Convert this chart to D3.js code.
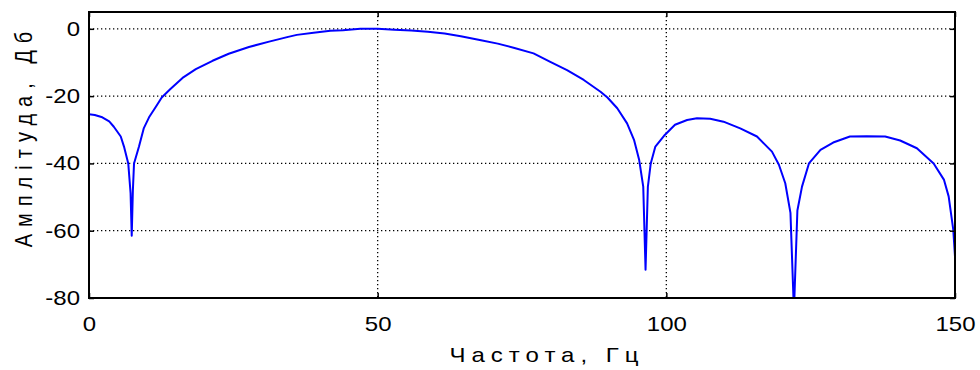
<!DOCTYPE html>
<html>
<head>
<meta charset="utf-8">
<script src="https://cdn.jsdelivr.net/npm/d3@7"></script>
<style>
    body { margin: 0; background: #fff; }
    svg text { font-family: "Liberation Sans", Arial, sans-serif; fill: #000; }
</style>
</head>
<body>
<div id="chart"></div>
<script>

// frequency (Hz) and amplitude (dB)
let freq = [0, 1, 2.3, 3.5, 4.3, 5.5, 6.06, 6.8, 7.2, 7.4, 7.6, 7.8, 8.66, 9.5, 10.4, 11.5, 12.6, 14.1, 16.2, 18.5,
    21.4, 24.2, 27.7, 31.2, 34.5, 36, 38.9, 41.8, 44, 47, 50, 52.9, 55.8, 58.7, 61.6, 64.4, 67.9, 70.8, 73.7, 77,
    79.9, 82.8, 85.7, 88.6, 89.8, 91.5, 93.2, 94.4, 95.3, 96, 96.4, 96.8, 97.3, 98.1, 99.6, 101.5, 103.6, 105.3,
    107.6, 109.9, 112.8, 115.7, 118.3, 119.5, 120.6, 121.5, 122.1, 122.7, 123.5, 124.7, 126.7, 128.9, 131.8,
    134.7, 137.9, 140.5, 143.4, 146.3, 148.1, 148.9, 149.7, 150];

let amp = [-25.4, -25.6, -26.3, -27.5, -29.1, -32, -35, -40, -48.8, -61.5, -48, -40, -35, -29.5, -26.3, -23.4, -20.4,
    -17.9, -14.6, -12, -9.5, -7.4, -5.4, -3.8, -2.4, -1.8, -1.2, -0.6, -0.4, 0, 0, -0.3, -0.5, -0.9, -1.4, -2.2,
    -3.4, -4.4, -5.7, -7.3, -9.8, -12.3, -15.2, -18.7, -20.4, -23.6, -28.1, -33, -39, -46.9, -71.6, -47, -40, -35,
    -31.8, -28.5, -27.1, -26.6, -26.7, -27.6, -29.6, -32, -36.5, -40.4, -45.9, -54.7, -84, -54, -46.9, -40, -36,
    -33.8, -32, -31.9, -32, -33.2, -35.5, -40, -44.9, -49.8, -59.7, -67.7];

let xTicks = [0, 50, 100, 150];
let yTicks = [-80, -60, -40, -20, 0];

let xLabel = "Частота, Гц";
let yLabel = "Амплітуда, Дб";

let width = 980;
let height = 370;
let margin = { left: 89, right: 25, top: 12, bottom: 72 };
let fontSize = 20;
let stretch = 1.2;   // the original text is a bit wider than plain Arial

let svg = d3.select("#chart").append("svg")
    .attr("width", width)
    .attr("height", height);

let x = d3.scaleLinear().domain([0, 150]).range([margin.left, width - margin.right]);
let y = d3.scaleLinear().domain([-80, 5]).range([height - margin.bottom, margin.top]);

// plain hyphen for negatives, like the original
let plain = d => String(d);

// clip so the deep null stays inside the box
svg.append("clipPath").attr("id", "plotclip")
    .append("rect")
    .attr("x", x(0)).attr("y", y(5))
    .attr("width", x(150) - x(0)).attr("height", y(-80) - y(5));

// dotted grid
let grid = svg.append("g").attr("class", "grid");
grid.selectAll(".hgrid").data(yTicks.filter(d => d > -80)).enter().append("line")
    .attr("x1", x(0)).attr("x2", x(150))
    .attr("y1", d => y(d)).attr("y2", d => y(d))
    .attr("stroke", "#000").attr("stroke-width", 1.3).attr("stroke-dasharray", "1.3,2.7");
grid.selectAll(".vgrid").data(xTicks.filter(d => d > 0 && d < 150)).enter().append("line")
    .attr("x1", d => x(d)).attr("x2", d => x(d))
    .attr("y1", y(5)).attr("y2", y(-80))
    .attr("stroke", "#000").attr("stroke-width", 1.3).attr("stroke-dasharray", "1.3,2.7");

// response curve
let line = d3.line().x((d, i) => x(freq[i])).y(d => y(d));
svg.append("path")
    .datum(amp)
    .attr("clip-path", "url(#plotclip)")
    .attr("fill", "none")
    .attr("stroke", "#0000ff")
    .attr("stroke-width", 2)
    .attr("stroke-linejoin", "round")
    .attr("d", line);

// axes: ticks point inward, labels drawn by d3.axis
let axisB = svg.append("g")
    .attr("transform", "translate(0," + y(-80) + ")")
    .call(d3.axisBottom(x).tickValues(xTicks).tickFormat(plain).tickSize(-5).tickPadding(19));
let axisL = svg.append("g")
    .attr("transform", "translate(" + x(0) + ",0)")
    .call(d3.axisLeft(y).tickValues(yTicks).tickFormat(plain).tickSize(-5).tickPadding(7.5));
let axisT = svg.append("g")
    .attr("transform", "translate(0," + y(5) + ")")
    .call(d3.axisTop(x).tickValues(xTicks).tickSize(-5).tickFormat(""));
let axisR = svg.append("g")
    .attr("transform", "translate(" + x(150) + ",0)")
    .call(d3.axisRight(y).tickValues(yTicks).tickSize(-5).tickFormat(""));

[axisB, axisL, axisT, axisR].forEach(g => {
    g.select(".domain").remove();
    g.selectAll(".tick line").attr("stroke", "#000").attr("stroke-width", 1.5);
    g.selectAll(".tick text")
        .attr("font-size", fontSize)
        .attr("font-family", "Liberation Sans, Arial, sans-serif")
        .attr("transform", "scale(" + stretch + ",1)");
});

// box
svg.append("rect")
    .attr("x", x(0)).attr("y", y(5))
    .attr("width", x(150) - x(0)).attr("height", y(-80) - y(5))
    .attr("fill", "none").attr("stroke", "#000").attr("stroke-width", 2);

// axis titles (letter spaced like the original)
svg.append("text")
    .attr("transform", "translate(547,362) scale(" + stretch + ",1)")
    .attr("text-anchor", "middle")
    .attr("font-size", fontSize)
    .attr("letter-spacing", 5)
    .text(xLabel);

svg.append("text")
    .attr("transform", "translate(32,136) scale(" + stretch + ",1) rotate(-90)")
    .attr("text-anchor", "middle")
    .attr("font-size", fontSize)
    .attr("letter-spacing", 7)
    .text(yLabel);

</script>
</body>
</html>
